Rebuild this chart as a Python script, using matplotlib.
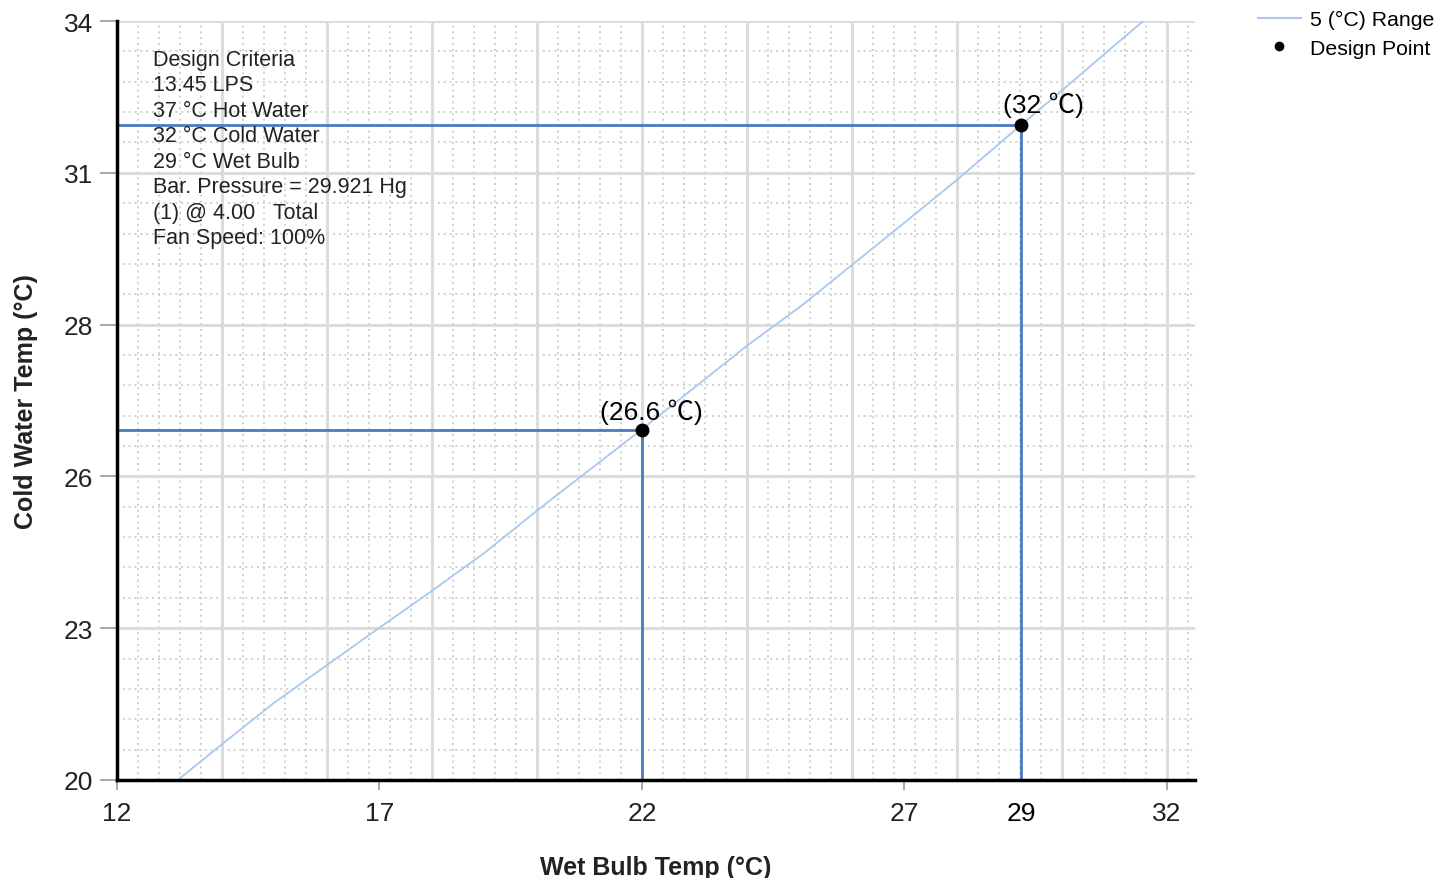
import numpy as np
import matplotlib
matplotlib.use("Agg")
import matplotlib.pyplot as plt
from matplotlib.lines import Line2D

plt.rcParams['font.family'] = ['Liberation Sans', 'Noto Sans CJK SC', 'DejaVu Sans']

# ---- data ----
range_wb = [13.16, 14, 15, 16, 17, 18, 19, 20, 21, 22, 23, 24, 25, 26, 27, 28, 29, 30, 31, 31.55]
range_cw = [20.0, 20.66, 21.43, 22.12, 22.81, 23.49, 24.19, 24.97, 25.72, 26.47, 27.24, 28.01,
            28.72, 29.50, 30.28, 31.07, 31.90, 32.72, 33.55, 34.0]
design_wb = [22.0, 29.22]
design_cw = [26.46, 32.08]
design_labels = ["(26.6 \u2103)", "(32 \u2103)"]
x_ticks = [12, 17, 22, 27, 32]
x_tick_labels = ["12", "17", "22", "27", "32"]
y_ticks = [20, 22.8, 25.6, 28.4, 31.2, 34]
y_tick_labels = ["20", "23", "26", "28", "31", "34"]
criteria = ["Design Criteria", "13.45 LPS", "37 \u00b0C Hot Water", "32 \u00b0C Cold Water",
            "29 \u00b0C Wet Bulb", "Bar. Pressure = 29.921 Hg", "(1) @ 4.00   Total",
            "Fan Speed: 100%"]
series_label = "5 (\u00b0C) Range"
point_label = "Design Point"
x_label = "Wet Bulb Temp (\u00b0C)"
y_label = "Cold Water Temp (\u00b0C)"

W, H = 1437, 879
fig = plt.figure(figsize=(W / 100, H / 100), dpi=100)
L, R, T, B = 117, 1195, 22, 781
ax = fig.add_axes([L / W, 1 - B / H, (R - L) / W, (B - T) / H])
xmin, xmax = 12, 12 + (R - L) / 52.5
ymin, ymax = 20, 34
ax.set_xlim(xmin, xmax)
ax.set_ylim(ymin, ymax)

# grid
for xv in np.arange(xmin, xmax, 0.4):
    ax.axvline(xv, color='#d0d0d0', lw=1.4, ls=(0, (1, 2)), zorder=0)
for yv in np.arange(ymin, ymax + 0.01, 0.56):
    ax.axhline(yv, color='#d0d0d0', lw=1.4, ls=(0, (1, 2)), zorder=0)
for xv in np.arange(xmin, xmax, 2.0):
    ax.axvline(xv, color='#dcdcdc', lw=2.2, zorder=0.5)
for yv in y_ticks:
    ax.axhline(yv, color='#dcdcdc', lw=2.2, zorder=0.5)

# range curve
ax.plot(range_wb, range_cw, color='#a8c8f0', lw=1.3, zorder=2)

# design reference lines
for xw, yc in zip(design_wb, design_cw):
    ax.plot([xmin, xw], [yc, yc], color='#4a7bbd', lw=2, zorder=3)
    ax.plot([xw, xw], [ymin, yc], color='#4a7bbd', lw=2, zorder=3)
ax.plot(design_wb, design_cw, 'o', color='black', ms=9, zorder=4)

offsets = [(7, 4), (16, 6)]
for xw, yc, lab, off in zip(design_wb, design_cw, design_labels, offsets):
    ax.annotate(lab, (xw, yc), xytext=off, textcoords='offset points',
                ha='center', va='bottom', fontsize=19, color='black',
                family=['Liberation Sans', 'Noto Sans CJK SC', 'DejaVu Sans'])

# spines
for s in ['top', 'right']:
    ax.spines[s].set_visible(False)
for s in ['left', 'bottom']:
    ax.spines[s].set_linewidth(2.5)
    ax.spines[s].set_color('black')
    ax.spines[s].set_zorder(5)

# ticks
ax.set_xticks(x_ticks + [design_wb[1]])
ax.set_xticklabels(x_tick_labels + [str(int(round(design_wb[1])))])
ax.set_yticks(y_ticks)
ax.set_yticklabels(y_tick_labels)
ax.tick_params(axis='x', length=7, width=1.2, color='#999999', labelsize=19,
               labelcolor='#222222', pad=8)
ax.tick_params(axis='y', length=12, width=1.2, color='#999999', labelsize=19,
               labelcolor='#222222', pad=5)
t29 = ax.xaxis.get_major_ticks()[-1]
t29.tick1line.set_visible(False)
t29.label1.set_color('black')

ax.set_xlabel(x_label, fontsize=18, fontweight='bold', color='#222222', labelpad=22)
ax.set_ylabel(y_label, fontsize=18, fontweight='bold', color='#222222', labelpad=19)

# criteria text
ax.text((153 - L) / (R - L), (B - 50) / (B - T), "\n".join(criteria),
        transform=ax.transAxes, ha='left', va='top', fontsize=15.5,
        color='#222222', linespacing=1.28, zorder=6)

# legend
handles = [Line2D([], [], color='#a8c8f0', lw=1.5),
           Line2D([], [], marker='o', ls='none', color='black', ms=6)]
fig.legend(handles, [series_label, point_label], loc='upper left',
           bbox_to_anchor=(1258 / W, 1 - 11 / H), frameon=False, fontsize=15.3,
           handlelength=2.0, handletextpad=0.45, labelspacing=0.45,
           borderpad=0, borderaxespad=0)

fig.savefig('out.png', dpi=100)
